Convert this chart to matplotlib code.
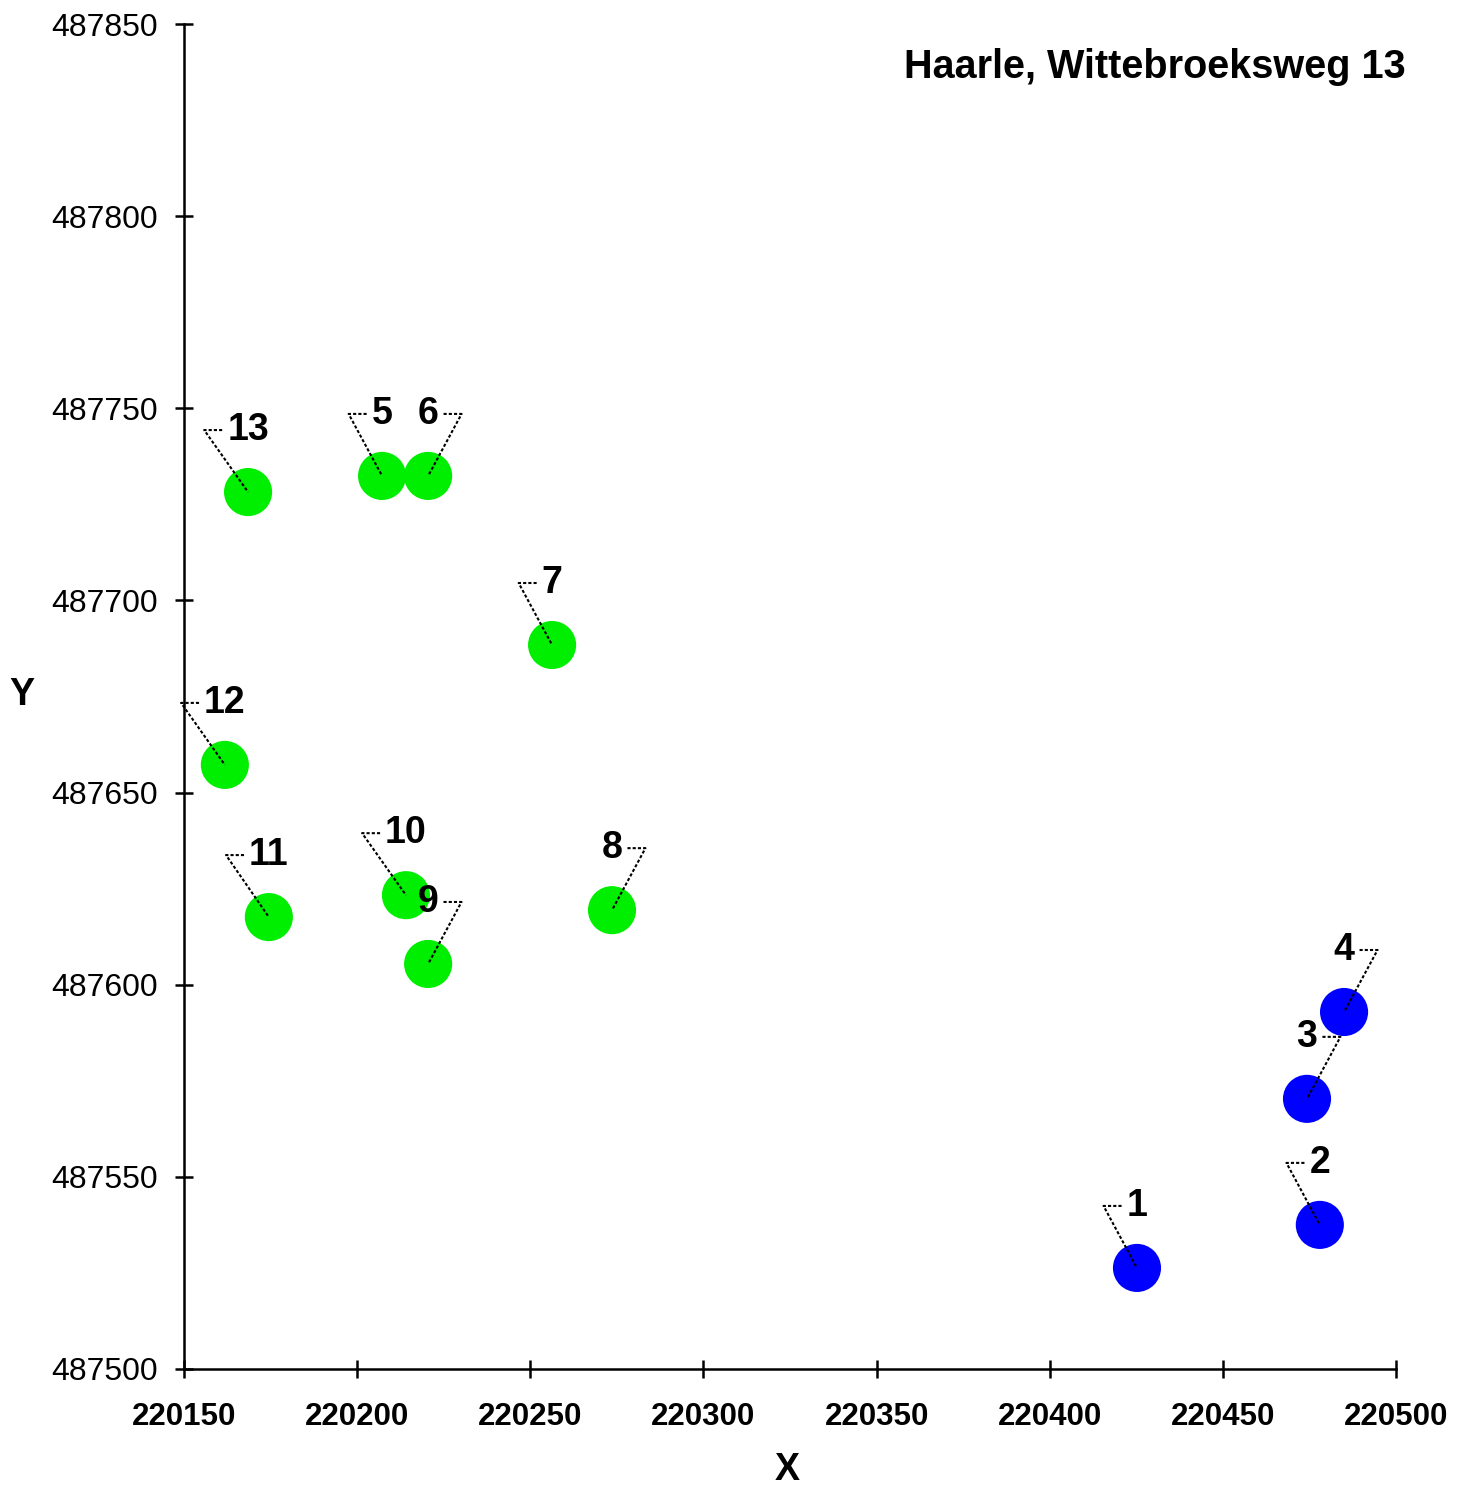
import numpy as np
import matplotlib
matplotlib.use("Agg")
import matplotlib.pyplot as plt

# well locations (RD coordinates)
labels = ["1", "2", "3", "4", "5", "6", "7", "8", "9", "10", "11", "12", "13"]
xs = [220425.2, 220478.0, 220474.3, 220485.0, 220207.2, 220220.5, 220256.3,
      220273.6, 220220.5, 220214.1, 220174.5, 220161.8, 220168.5]
ys = [487526.3, 487537.5, 487570.3, 487592.9, 487732.4, 487732.4, 487688.4,
      487619.4, 487605.4, 487623.3, 487617.6, 487657.2, 487728.2]
colors = ["#0000ff"] * 4 + ["#00ee00"] * 9
sides = ["L", "L", "R", "R", "L", "R", "L", "R", "R", "L", "L", "L", "L"]

xticks = [220150, 220200, 220250, 220300, 220350, 220400, 220450, 220500]
yticks = [487500, 487550, 487600, 487650, 487700, 487750, 487800, 487850]

plt.rcParams['font.family'] = ['Liberation Sans', 'DejaVu Sans']

fig = plt.figure(figsize=(14.65, 14.93), dpi=100)
ax = fig.add_axes([184/1465, 1 - 1369/1493, (1396-184)/1465, (1369-24)/1493])
ax.set_xlim(220150, 220500)
ax.set_ylim(487500, 487850)
for s in ["top", "right"]:
  ax.spines[s].set_visible(False)
for s in ["left", "bottom"]:
  ax.spines[s].set_linewidth(1.8)
ax.set_xticks(xticks)
ax.set_yticks(yticks)
ax.set_xticklabels([str(v) for v in xticks], fontsize=22.5, fontweight="bold")
ax.set_yticklabels([str(v) for v in yticks], fontsize=23)
ax.tick_params(axis="both", direction="inout", length=13, width=1.8)
ax.tick_params(axis="x", pad=17)
ax.tick_params(axis="y", pad=12)

ax.scatter(xs, ys, s=1200, c=colors, edgecolors="none", zorder=2, clip_on=False)

fig.text(787/1465, 1 - 1470/1493, "X", fontsize=27, fontweight="bold", ha="center", va="center")
fig.text(22/1465, 1 - 695/1493, "Y", fontsize=27, fontweight="bold", ha="center", va="center")
fig.text(1406/1465, 1 - 67/1493, "Haarle, Wittebroeksweg 13", fontsize=28.5,
         fontweight="bold", ha="right", va="center")

# labels with leader lines
fig.canvas.draw()
r = fig.canvas.get_renderer()
inv = ax.transData.inverted()
for lab, x, y, side in zip(labels, xs, ys, sides):
  px, py = ax.transData.transform((x, y))
  ty = py + 62
  t = ax.text(*inv.transform((px, ty)), lab, fontsize=27, fontweight="bold",
              ha="center", va="center", zorder=4)
  bb = t.get_window_extent(renderer=r)
  if side == "L":
    h0 = bb.x0 - 5
    elbow = h0 - 18
  else:
    h0 = bb.x1 + 5
    elbow = h0 + 18
  pts = inv.transform([(h0, ty), (elbow, ty), (px, py)])
  ax.plot(pts[:, 0], pts[:, 1], color="black", lw=1.5, ls=(0, (1.5, 1)),
          zorder=3, clip_on=False)

plt.savefig("out.png", dpi=100)
